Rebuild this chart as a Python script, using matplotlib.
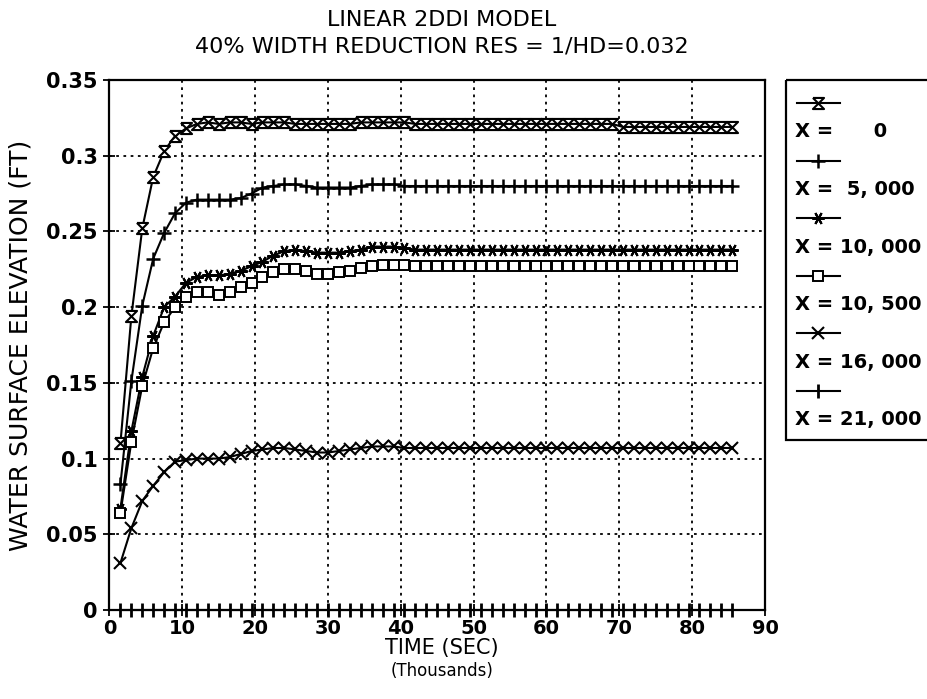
import matplotlib
matplotlib.use("Agg")
import matplotlib.pyplot as plt
from matplotlib.patches import Rectangle

# Time in thousands of seconds (sampled every 1,500 s)
time_k = [1.5, 3.0, 4.5, 6.0, 7.5, 9.0, 10.5, 12.0, 13.5, 15.0, 16.5, 18.0, 19.5, 21.0,
          22.5, 24.0, 25.5, 27.0, 28.5, 30.0, 31.5, 33.0, 34.5, 36.0, 37.5, 39.0, 40.5,
          42.0, 43.5, 45.0, 46.5, 48.0, 49.5, 51.0, 52.5, 54.0, 55.5, 57.0, 58.5, 60.0,
          61.5, 63.0, 64.5, 66.0, 67.5, 69.0, 70.5, 72.0, 73.5, 75.0, 76.5, 78.0, 79.5,
          81.0, 82.5, 84.0, 85.5]

# Water surface elevation (ft) at each station
x_0 = [0.110, 0.194, 0.252, 0.286, 0.303, 0.313, 0.318, 0.321, 0.322, 0.321, 0.322, 0.322,
       0.321, 0.322, 0.322, 0.322, 0.321, 0.321, 0.321, 0.321, 0.321, 0.321, 0.322, 0.322,
       0.322, 0.322, 0.322, 0.321, 0.321, 0.321, 0.321, 0.321, 0.321, 0.321, 0.321, 0.321,
       0.321, 0.321, 0.321, 0.321, 0.321, 0.321, 0.321, 0.321, 0.321, 0.321, 0.319, 0.319,
       0.319, 0.319, 0.319, 0.319, 0.319, 0.319, 0.319, 0.319, 0.319]
x_5000 = [0.083, 0.151, 0.201, 0.232, 0.249, 0.262, 0.269, 0.271, 0.271, 0.271, 0.271, 0.272,
          0.275, 0.279, 0.280, 0.281, 0.281, 0.280, 0.279, 0.279, 0.279, 0.279, 0.280, 0.281,
          0.281, 0.281, 0.280, 0.280, 0.280, 0.280, 0.280, 0.280, 0.280, 0.280, 0.280, 0.280,
          0.280, 0.280, 0.280, 0.280, 0.280, 0.280, 0.280, 0.280, 0.280, 0.280, 0.280, 0.280,
          0.280, 0.280, 0.280, 0.280, 0.280, 0.280, 0.280, 0.280, 0.280]
x_10000 = [0.067, 0.118, 0.154, 0.181, 0.200, 0.207, 0.216, 0.220, 0.221, 0.221, 0.222, 0.224,
           0.227, 0.230, 0.234, 0.237, 0.238, 0.237, 0.236, 0.236, 0.236, 0.237, 0.238, 0.240,
           0.240, 0.240, 0.239, 0.238, 0.238, 0.238, 0.238, 0.238, 0.238, 0.238, 0.238, 0.238,
           0.238, 0.238, 0.238, 0.238, 0.238, 0.238, 0.238, 0.238, 0.238, 0.238, 0.238, 0.238,
           0.238, 0.238, 0.238, 0.238, 0.238, 0.238, 0.238, 0.238, 0.238]
x_10500 = [0.064, 0.111, 0.148, 0.173, 0.190, 0.200, 0.207, 0.210, 0.210, 0.208, 0.210, 0.213,
           0.216, 0.220, 0.223, 0.225, 0.225, 0.224, 0.222, 0.222, 0.223, 0.224, 0.226, 0.227,
           0.228, 0.228, 0.228, 0.227, 0.227, 0.227, 0.227, 0.227, 0.227, 0.227, 0.227, 0.227,
           0.227, 0.227, 0.227, 0.227, 0.227, 0.227, 0.227, 0.227, 0.227, 0.227, 0.227, 0.227,
           0.227, 0.227, 0.227, 0.227, 0.227, 0.227, 0.227, 0.227, 0.227]
x_16000 = [0.031, 0.054, 0.072, 0.082, 0.091, 0.098, 0.099, 0.100, 0.100, 0.100, 0.101, 0.103,
           0.105, 0.106, 0.107, 0.107, 0.106, 0.105, 0.104, 0.104, 0.105, 0.106, 0.107, 0.108,
           0.108, 0.108, 0.107, 0.107, 0.107, 0.107, 0.107, 0.107, 0.107, 0.107, 0.107, 0.107,
           0.107, 0.107, 0.107, 0.107, 0.107, 0.107, 0.107, 0.107, 0.107, 0.107, 0.107, 0.107,
           0.107, 0.107, 0.107, 0.107, 0.107, 0.107, 0.107, 0.107, 0.107]
x_21000 = [0.0] * len(time_k)

labels = ["X =      0", "X =  5, 000", "X = 10, 000", "X = 10, 500", "X = 16, 000", "X = 21, 000"]
x_ticks = [0, 10, 20, 30, 40, 50, 60, 70, 80, 90]
y_ticks = [0, 0.05, 0.1, 0.15, 0.2, 0.25, 0.3, 0.35]
y_tick_labels = ["0", "0.05", "0.1", "0.15", "0.2", "0.25", "0.3", "0.35"]

hourglass = [(-1, 1), (1, 1), (-1, -1), (1, -1), (-1, 1)]
styles = [
    dict(marker=hourglass, ms=8, mfc="white", mew=1.5),
    dict(marker="+", ms=10, mew=1.8),
    dict(marker=(6, 2, 90), ms=9, mew=1.5),
    dict(marker="s", ms=7, mfc="white", mew=1.4),
    dict(marker="x", ms=8, mew=1.5),
    dict(marker="|", ms=10, mew=2.0),
]
series = [x_0, x_5000, x_10000, x_10500, x_16000, x_21000]

plt.rcParams["font.family"] = ["DejaVu Sans"]

W, H = 928, 699
fig = plt.figure(figsize=(W / 100, H / 100), dpi=100)
ax = fig.add_axes([109.5 / W, 1 - 610 / H, 655.5 / W, 530 / H])

for vals, st in zip(series, styles):
    ax.plot(time_k, vals, color="black", lw=1.5, mec="black", clip_on=False, **st)

ax.set_xlim(0, 90)
ax.set_ylim(0, 0.35)
ax.set_xticks(x_ticks)
ax.set_xticklabels([str(v) for v in x_ticks], fontsize=14, fontweight="bold")
ax.set_yticks(y_ticks)
ax.set_yticklabels(y_tick_labels, fontsize=15, fontweight="bold")
ax.tick_params(direction="inout", length=9, width=1.3, colors="black")
ax.tick_params(axis="x", pad=2)
ax.tick_params(axis="y", pad=4)
ax.grid(True, color="black", linestyle=(0, (1.5, 2.5)), lw=1.3)
for sp in ax.spines.values():
    sp.set_linewidth(1.6)

ax.set_ylabel("WATER SURFACE ELEVATION (FT)", fontsize=18, labelpad=10)
fig.text(442 / W, 1 - 648 / H, "TIME (SEC)", ha="center", va="center", fontsize=15)
fig.text(442 / W, 1 - 671 / H, "(Thousands)", ha="center", va="center", fontsize=12)

fig.text(442 / W, 1 - 20 / H, "LINEAR 2DDI MODEL", ha="center", va="center", fontsize=16)
fig.text(442 / W, 1 - 47 / H, "40% WIDTH REDUCTION RES = 1/HD=0.032", ha="center",
         va="center", fontsize=16)

# Legend panel laid out in pixel units: sample line on one row, label on the next
lax = fig.add_axes([786 / W, 1 - 440 / H, 142 / W, 360 / H])
lax.set_xlim(786, 928)
lax.set_ylim(440, 80)
lax.axis("off")
lax.add_patch(Rectangle((786, 80), 160, 360, fill=False, lw=1.6, ec="black", clip_on=False))
for i, (lab, st) in enumerate(zip(labels, styles)):
    ys = 103 + 57.6 * i
    lax.plot([797, 840], [ys, ys], color="black", lw=1.5)
    lax.plot([818.5], [ys], color="black", mec="black", **st)
    lax.text(795, ys + 28.8, lab, ha="left", va="center", fontsize=14, fontweight="bold")

fig.savefig("out.png", dpi=100)
